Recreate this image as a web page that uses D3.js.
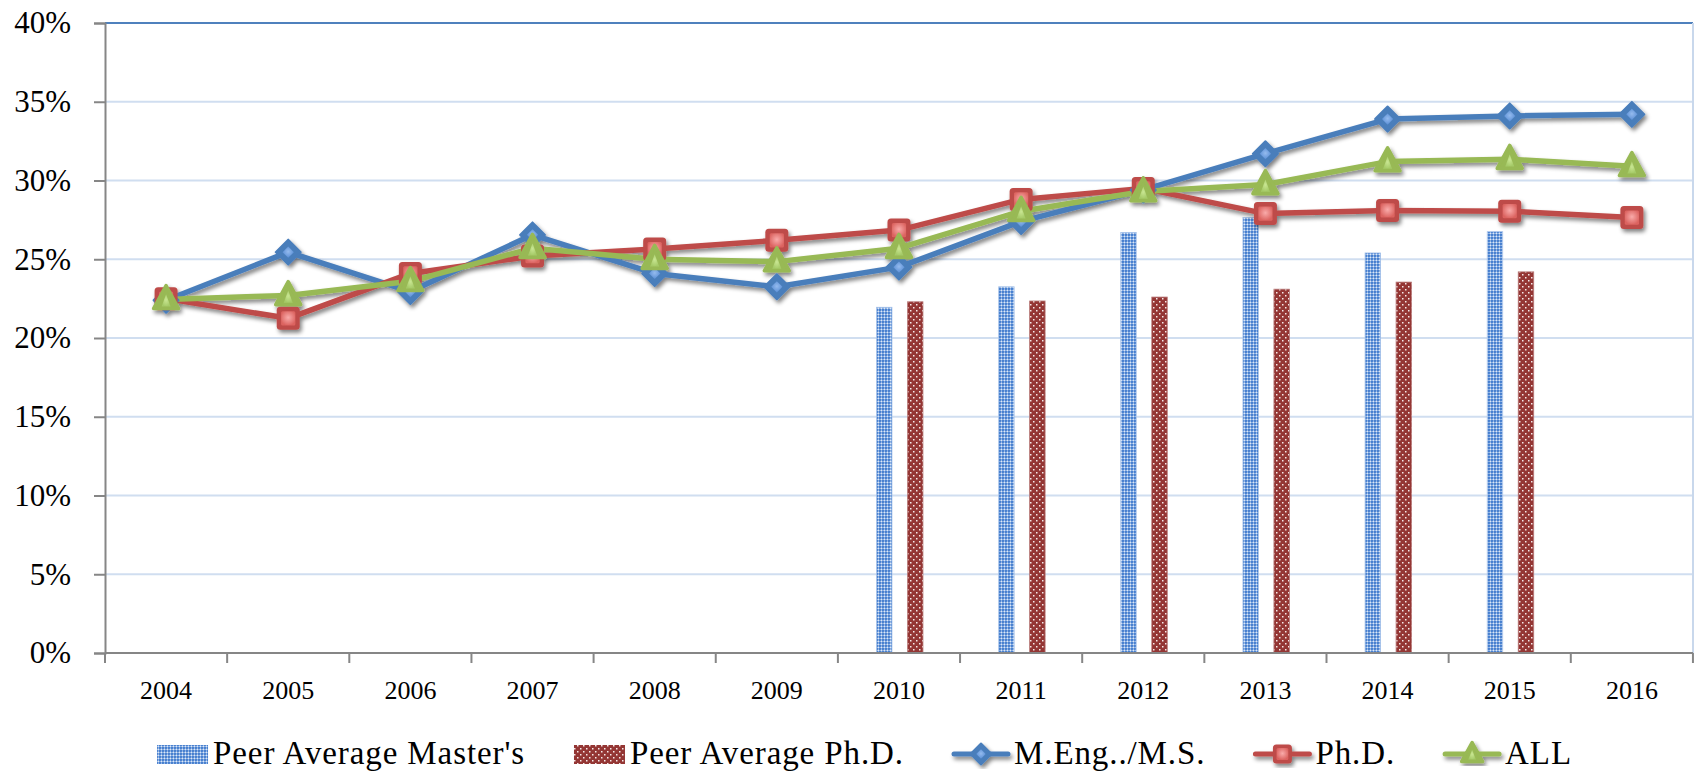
<!DOCTYPE html>
<html>
<head>
<meta charset="utf-8">
<script src="https://cdn.jsdelivr.net/npm/d3@7"></script>
<style>
  html, body { margin: 0; padding: 0; background: #fff; }
  svg { display: block; }
  svg text { font-family: "Liberation Serif", "Times New Roman", serif !important; fill: #000; }
</style>
</head>
<body>
<svg id="chart" width="1694" height="773"></svg>
<script>
// ---------- data ----------
const years = ["2004","2005","2006","2007","2008","2009","2010","2011","2012","2013","2014","2015","2016"];
const peerMastersValues = [null, null, null, null, null, null, 21.95, 23.25, 26.7, 27.65, 25.4, 26.75, null];
const peerPhdValues     = [null, null, null, null, null, null, 22.3, 22.35, 22.6, 23.1, 23.55, 24.2, null];
const mengValues = [22.4, 25.45, 22.95, 26.55, 24.1, 23.25, 24.5, 27.4, 29.4, 31.7, 33.9, 34.1, 34.2];
const phdValues  = [22.5, 21.25, 24.1, 25.2, 25.65, 26.2, 26.85, 28.8, 29.5, 27.9, 28.1, 28.05, 27.65];
const allValues  = [22.45, 22.7, 23.6, 25.7, 25.0, 24.85, 25.7, 28.05, 29.3, 29.75, 31.2, 31.35, 30.9];
const yTicks = [0, 5, 10, 15, 20, 25, 30, 35, 40];
const legendLabels = ["Peer Average Master's", "Peer Average Ph.D.", "M.Eng../M.S.", "Ph.D.", "ALL"];

(function () {
const FONT = "'Liberation Serif', 'Times New Roman', serif";
// ---------- layout ----------
const svg = d3.select("#chart");
const plotLeft = 105, plotRight = 1693, plotTop = 23, plotBottom = 653;

const x = d3.scaleBand().domain(years).range([plotLeft, plotLeft + 13 * 122.15]).padding(0);
const y = d3.scaleLinear().domain([0, 40]).range([plotBottom, plotTop]);
const xInner = d3.scaleBand().domain(["m", "p"]).range([-22.5, 24]).paddingInner(0.5).paddingOuter(0);

const defs = svg.append("defs");

// patterns
const pm = defs.append("pattern").attr("id", "patM").attr("patternUnits", "userSpaceOnUse")
  .attr("width", 3).attr("height", 3);
pm.append("rect").attr("width", 3).attr("height", 3).attr("fill", "#4880cf");
pm.append("rect").attr("x", 2).attr("y", 0).attr("width", 0.6).attr("height", 3).attr("fill", "#b3cdf0");
pm.append("rect").attr("x", 0).attr("y", 2).attr("width", 3).attr("height", 0.6).attr("fill", "#b3cdf0");
pm.append("rect").attr("x", 1.8).attr("y", 1.8).attr("width", 1).attr("height", 1).attr("fill", "#ffffff");

const pp = defs.append("pattern").attr("id", "patP").attr("patternUnits", "userSpaceOnUse")
  .attr("width", 6).attr("height", 6);
pp.append("rect").attr("width", 6).attr("height", 6).attr("fill", "#943634");
pp.append("rect").attr("x", 1).attr("y", 1).attr("width", 1.5).attr("height", 1.5).attr("fill", "#f6eaea");
pp.append("rect").attr("x", 4).attr("y", 4).attr("width", 1.5).attr("height", 1.5).attr("fill", "#f6eaea");

// shadow
const f = defs.append("filter").attr("id", "shadow").attr("x", "-20%").attr("y", "-20%")
  .attr("width", "140%").attr("height", "140%");
f.append("feGaussianBlur").attr("in", "SourceAlpha").attr("stdDeviation", 2.2).attr("result", "b");
f.append("feOffset").attr("in", "b").attr("dx", 2).attr("dy", 3).attr("result", "o");
f.append("feComponentTransfer").attr("in", "o").attr("result", "s")
  .append("feFuncA").attr("type", "linear").attr("slope", 0.5);
const fm = f.append("feMerge");
fm.append("feMergeNode").attr("in", "s");
fm.append("feMergeNode").attr("in", "SourceGraphic");

// marker gradients
function grad(id, inner, outer) {
  const g = defs.append("radialGradient").attr("id", id).attr("cx", "50%").attr("cy", "45%").attr("r", "55%");
  g.append("stop").attr("offset", "0%").attr("stop-color", inner);
  g.append("stop").attr("offset", "100%").attr("stop-color", outer);
}
grad("gBlue", "#95bbee", "#5a8fd6");
grad("gRed", "#f9abaa", "#dc6461");
grad("gGreen", "#c9e692", "#a5ca67");

// ---------- grid ----------
svg.append("g").selectAll("line").data(yTicks.filter(t => t > 0 && t < 40)).join("line")
  .attr("x1", plotLeft).attr("x2", plotRight).attr("y1", d => y(d)).attr("y2", d => y(d))
  .attr("stroke", "#d0def0").attr("stroke-width", 2);
svg.append("line").attr("x1", plotLeft).attr("x2", plotRight).attr("y1", y(40)).attr("y2", y(40))
  .attr("stroke", "#4f81bd").attr("stroke-width", 2);
svg.append("line").attr("x1", plotRight).attr("x2", plotRight).attr("y1", y(40)).attr("y2", plotBottom)
  .attr("stroke", "#c9d8ec").attr("stroke-width", 2);

// ---------- bars ----------
const barG = svg.append("g");
years.forEach((yr, i) => {
  const pairs = [["m", peerMastersValues[i], "url(#patM)"], ["p", peerPhdValues[i], "url(#patP)"]];
  pairs.forEach(([k, v, fill]) => {
    if (v == null) return;
    const cx = x(yr) + x.bandwidth() / 2;
    barG.append("rect")
      .attr("x", cx + xInner(k)).attr("width", xInner.bandwidth())
      .attr("y", y(v)).attr("height", y(0) - y(v))
      .attr("fill", fill)
      .attr("stroke", k === "m" ? "#a9c4ea" : "#b97b7a").attr("stroke-width", 0.8);
  });
});

// ---------- axes ----------
const yAxis = d3.axisLeft(y).tickValues(yTicks).tickFormat(d => d + "%").tickSize(11).tickPadding(23);
const yg = svg.append("g").attr("transform", `translate(${plotLeft},0)`).call(yAxis)
  .attr("font-family", null).attr("font-size", null);
yg.select(".domain").attr("stroke", "#868686").attr("stroke-width", 2);
yg.selectAll(".tick line").attr("stroke", "#868686").attr("stroke-width", 2);
yg.selectAll(".tick text").style("font-family", FONT).style("font-size", "31px").attr("fill", "#000")
  .attr("dy", "0.32em");

const xAxis = d3.axisBottom(x).tickSize(0).tickPadding(28);
const xg = svg.append("g").attr("transform", `translate(0,${plotBottom})`).call(xAxis)
  .attr("font-family", null).attr("font-size", null);
xg.select(".domain").remove();
xg.append("line").attr("x1", plotLeft).attr("x2", plotRight).attr("stroke", "#868686").attr("stroke-width", 2);
xg.selectAll(".tick text").style("font-family", FONT).style("font-size", "26px").attr("fill", "#000");
const boundaries = years.map(d => x(d)).concat([x(years[years.length - 1]) + x.bandwidth()]);
xg.append("g").selectAll("line").data(boundaries).join("line")
  .attr("x1", d => d).attr("x2", d => d).attr("y1", 0).attr("y2", 10)
  .attr("stroke", "#868686").attr("stroke-width", 2);

// ---------- lines ----------
const series = [
  { name: "meng", values: mengValues, color: "#4a7ebb", shape: "diamond", grad: "url(#gBlue)" },
  { name: "phd", values: phdValues, color: "#be4b48", shape: "square", grad: "url(#gRed)" },
  { name: "all", values: allValues, color: "#98b954", shape: "triangle", grad: "url(#gGreen)" }
];
const cxOf = i => x(years[i]) + x.bandwidth() / 2;
const lineGen = d3.line().x((d, i) => cxOf(i)).y(d => y(d));

function drawMarker(g, shape, cx, cy, s, color, fill) {
  if (shape === "diamond") {
    const r = s / 2 + 1;
    g.append("path").attr("d", `M${cx},${cy - r}L${cx + r},${cy}L${cx},${cy + r}L${cx - r},${cy}Z`)
      .attr("fill", color).attr("stroke", color).attr("stroke-width", 2).attr("stroke-linejoin", "round");
    const ri = r * 0.45;
    g.append("path").attr("d", `M${cx},${cy - ri}L${cx + ri},${cy}L${cx},${cy + ri}L${cx - ri},${cy}Z`)
      .attr("fill", fill);
  } else if (shape === "square") {
    const h = s / 2;
    g.append("rect").attr("x", cx - h).attr("y", cy - h).attr("width", s).attr("height", s)
      .attr("rx", 3.5).attr("fill", color);
    const hi = h * 0.62;
    g.append("rect").attr("x", cx - hi).attr("y", cy - hi).attr("width", hi * 2).attr("height", hi * 2)
      .attr("rx", 1.5).attr("fill", fill);
  } else {
    const w = s + 2, hh = s;
    const tp = cy - hh * 0.6, bt = cy + hh * 0.4;
    g.append("path").attr("d", `M${cx},${tp}L${cx + w / 2},${bt}L${cx - w / 2},${bt}Z`)
      .attr("fill", color).attr("stroke", color).attr("stroke-width", 3.5).attr("stroke-linejoin", "round");
    g.append("path").attr("d", `M${cx},${cy - hh * 0.22}L${cx + w * 0.18},${bt - 2}L${cx - w * 0.18},${bt - 2}Z`)
      .attr("fill", fill);
  }
}

const lineLayer = svg.append("g").attr("filter", "url(#shadow)");
series.forEach(s => {
  lineLayer.append("path").datum(s.values).attr("d", lineGen)
    .attr("fill", "none").attr("stroke", s.color).attr("stroke-width", 5.5)
    .attr("stroke-linejoin", "round").attr("stroke-linecap", "round");
});
series.forEach(s => {
  const g = lineLayer.append("g");
  s.values.forEach((v, i) => drawMarker(g, s.shape, cxOf(i), y(v), 23, s.color, s.grad));
});

// ---------- legend ----------
const legG = svg.append("g");
const legY = 764;
const items = [
  { label: legendLabels[0], type: "bar", fill: "url(#patM)" },
  { label: legendLabels[1], type: "bar", fill: "url(#patP)" },
  { label: legendLabels[2], type: "line", s: series[0] },
  { label: legendLabels[3], type: "line", s: series[1] },
  { label: legendLabels[4], type: "line", s: series[2] }
];
const swW = 51, lnW = 56, gapTxt = 5, gapItem = 49;
function legText(sel) {
  return sel.style("font-family", FONT).style("font-size", "33px").style("letter-spacing", "0.9px");
}
const measures = items.map(it => {
  const t = legText(legG.append("text")).text(it.label);
  const w = t.node().getComputedTextLength();
  t.remove();
  return w;
});
let total = 0;
items.forEach((it, i) => {
  total += (it.type === "bar" ? swW : lnW) + gapTxt + measures[i] + (i < items.length - 1 ? gapItem : 0);
});
let cx0 = 864.5 - total / 2;
items.forEach((it, i) => {
  const sw = it.type === "bar" ? swW : lnW;
  if (it.type === "bar") {
    legG.append("rect").attr("x", cx0).attr("y", legY - 19).attr("width", swW).attr("height", 19)
      .attr("fill", it.fill);
  } else {
    const g = legG.append("g").attr("filter", "url(#shadow)");
    g.append("line").attr("x1", cx0 + 1).attr("x2", cx0 + lnW - 1).attr("y1", legY - 10).attr("y2", legY - 10)
      .attr("stroke", it.s.color).attr("stroke-width", 5).attr("stroke-linecap", "round");
    drawMarker(g, it.s.shape, cx0 + lnW / 2, legY - 10, 19, it.s.color, it.s.grad);
  }
  legText(legG.append("text")).attr("x", cx0 + sw + gapTxt).attr("y", legY).text(it.label);
  cx0 += sw + gapTxt + measures[i] + gapItem;
});
})();
</script>
</body>
</html>
